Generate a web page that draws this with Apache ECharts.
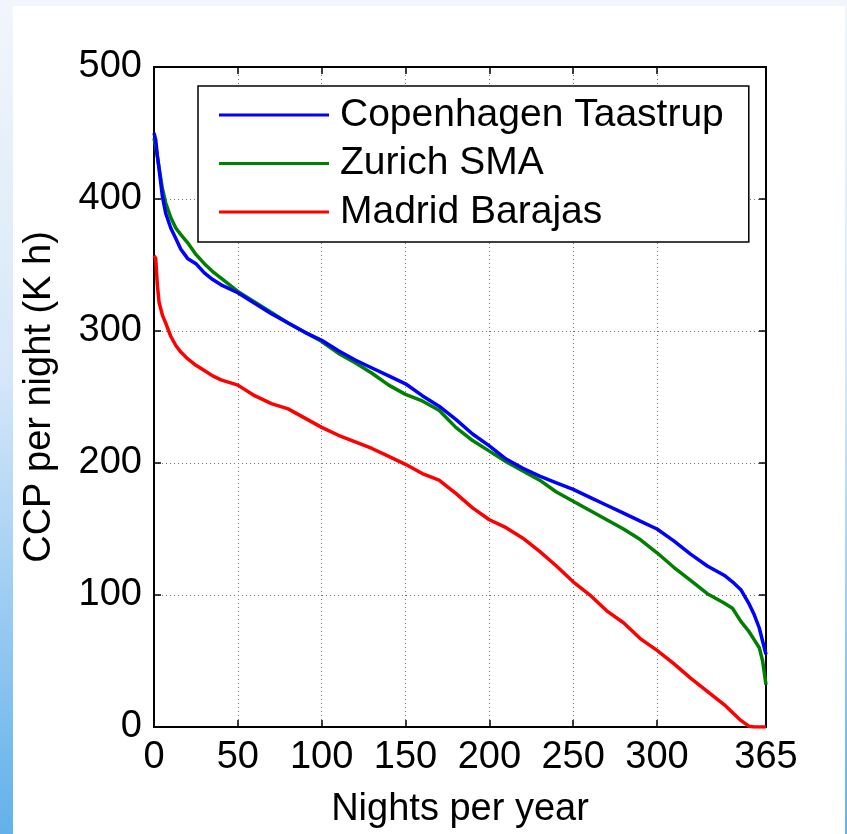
<!DOCTYPE html>
<html>
<head>
<meta charset="utf-8">
<script src="https://cdn.jsdelivr.net/npm/echarts@6/dist/echarts.min.js"></script>
<style>
html,body{margin:0;padding:0;width:847px;height:834px;overflow:hidden;}
body{background:linear-gradient(to bottom,#f2f6fc 0%,#d6e7f8 45%,#62b1eb 100%);position:relative;}
#panel{position:absolute;left:13px;top:6px;width:832px;height:828px;background:#ffffff;}
#chart{position:absolute;left:0;top:0;width:847px;height:834px;}
</style>
</head>
<body>
<div id="panel"></div>
<div id="chart"></div>
<script>
const nights = [0,1,2,3,5,7,10,13,16,20,25,30,35,40,50,60,70,80,90,100,110,120,130,140,150,160,170,180,190,200,210,220,230,240,250,260,270,280,290,300,310,320,330,340,345,350,355,358,361,363,365];
const copenhagen = [450,445,433,423,402,389,378,370,362,355,351,344,339,335,329,321,313,306,299,293,285,278,272,266,260,251,243,233,222,213,203,196,190,185,180,174,168,162,156,150,141,131,122,115,110,104,93,85,75,65,55];
const zurich = [446,440,432,424,408,397,386,378,373,367,358,351,345,340,330,322,314,306,299,292,283,276,268,259,252,247,240,227,217,209,201,194,187,178,171,164,157,150,142,132,121,111,101,94,90,80,72,66,60,50,32];
const madrid = [357,355,335,322,312,306,296,289,284,279,274,270,266,263,259,251,245,241,234,227,221,216,211,205,199,192,187,177,166,157,151,143,133,122,110,100,88,79,67,58,48,37,27,17,11,5,0.5,0,0,0,0];
const xTicks = [0,50,100,150,200,250,300,365];
const seriesNames = ['Copenhagen Taastrup','Zurich SMA','Madrid Barajas'];
const seriesColors = ['#0000ff','#008000','#ff0000'];
const seriesValues = [copenhagen, zurich, madrid];

const FONT = 'Liberation Sans, Arial, sans-serif';
const chart = echarts.init(document.getElementById('chart'), null, {renderer:'canvas'});

const axisLine = {show:true, onZero:false, lineStyle:{color:'#000', width:2}};
const tick = {show:true, inside:true, length:7, lineStyle:{color:'#000', width:1.5}};
const split = {show:true, lineStyle:{color:'#777', width:1, type:[1,3]}};

chart.setOption({
  backgroundColor:'transparent',
  animation:false,
  grid:{left:154, top:67, right:81, bottom:101, containLabel:false},
  legend:{
    orient:'vertical', left:198, top:86,
    data:seriesNames,
    icon:'rect', itemWidth:110, itemHeight:3, itemGap:8.5,
    padding:[9,25,10,21],
    borderColor:'#000', borderWidth:1.5, backgroundColor:'#fff',
    textStyle:{fontFamily:FONT, fontSize:39, color:'#000', lineHeight:40, padding:[0,0,0,6]}
  },
  xAxis:[{
    type:'value', min:0, max:365, position:'bottom',
    name:'Nights per year', nameLocation:'middle', nameGap:64,
    nameTextStyle:{fontFamily:FONT, fontSize:38, color:'#000'},
    axisLine:axisLine,
    axisTick:Object.assign({customValues:xTicks}, tick),
    axisLabel:{customValues:xTicks, fontFamily:FONT, fontSize:38, color:'#000', margin:12},
    splitLine:split
  },{
    type:'value', min:0, max:365, position:'top',
    axisLine:axisLine,
    axisTick:Object.assign({customValues:xTicks}, tick),
    axisLabel:{show:false},
    splitLine:{show:false}
  }],
  yAxis:[{
    type:'value', min:0, max:500, interval:100, position:'left',
    name:'CCP per night (K h)', nameLocation:'middle', nameGap:95, nameRotate:90,
    nameTextStyle:{fontFamily:FONT, fontSize:38, color:'#000'},
    axisLine:axisLine, axisTick:tick,
    axisLabel:{fontFamily:FONT, fontSize:38, color:'#000', margin:12},
    splitLine:split
  },{
    type:'value', min:0, max:500, interval:100, position:'right',
    axisLine:axisLine, axisTick:tick,
    axisLabel:{show:false}, splitLine:{show:false}
  }],
  series: seriesNames.map((n,i)=>({
    name:n, type:'line', xAxisIndex:0, yAxisIndex:0,
    data: nights.map((d,j)=>[d, seriesValues[i][j]]),
    showSymbol:false, symbol:'none', smooth:false,
    lineStyle:{color:seriesColors[i], width:3.5},
    itemStyle:{color:seriesColors[i]},
    z: 3 - i
  }))
});
</script>
</body>
</html>
